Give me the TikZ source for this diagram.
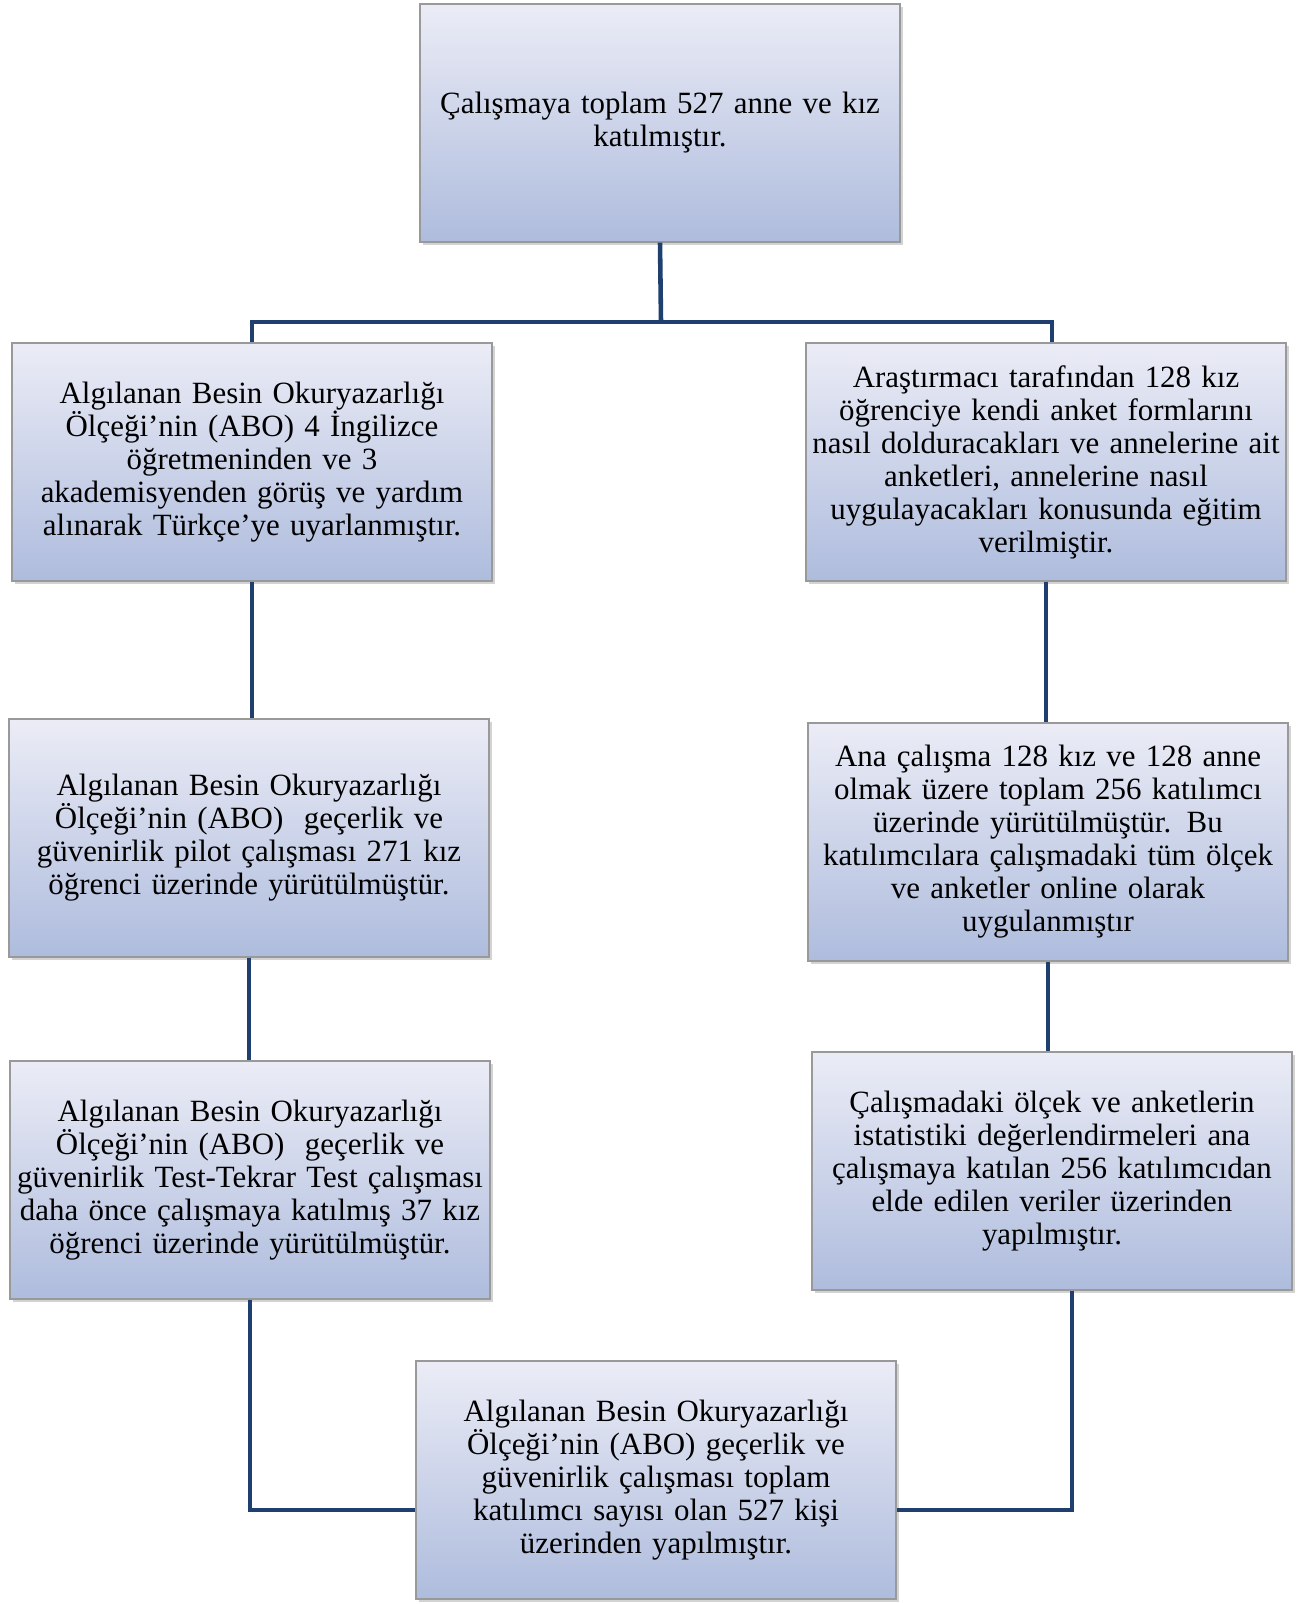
\documentclass[tikz,border=0pt]{standalone}
\usepackage{fontspec}
\setmainfont{Liberation Serif}
\usetikzlibrary{calc,shadows}
\definecolor{linkblue}{HTML}{1F3F6F}
\definecolor{boxtop}{HTML}{EBECF6}
\definecolor{boxbottom}{HTML}{AEBCDD}
\tikzset{
	stepbox/.style={rectangle, draw=black!40, line width=0.8pt, top color=boxtop, bottom color=boxbottom,
		drop shadow={shadow xshift=0.06cm, shadow yshift=-0.06cm, opacity=0.35},
		minimum width=9.6cm, minimum height=4.76cm, text width=9.45cm, inner sep=0pt,
		align=center, font=\fontsize{17.6}{18.8}\selectfont},
	link/.style={line width=2.6pt, color=linkblue}
}

\begin{document}
\begin{tikzpicture}[x=0.02cm, y=-0.02cm]
			%%%%% START %%%%%
			
			\useasboundingbox (0, 0) rectangle (1309, 1604);
			
			\node[stepbox] (top) at (660, 123) {Çalışmaya toplam 527 anne ve kız\\ katılmıştır.};
			
			\node[stepbox] (left1) at (252, 462) {Algılanan Besin Okuryazarlığı\\ Ölçeği’nin (ABO) 4 İngilizce\\ öğretmeninden ve 3\\ akademisyenden görüş ve yardım\\ alınarak Türkçe’ye uyarlanmıştır.};
			\node[stepbox] (right1) at (1046, 462) {Araştırmacı tarafından 128 kız\\ öğrenciye kendi anket formlarını\\ nasıl dolduracakları ve annelerine ait\\ anketleri, annelerine nasıl\\ uygulayacakları konusunda eğitim\\ verilmiştir.};
			
			\node[stepbox] (left2) at (249, 838) {Algılanan Besin Okuryazarlığı\\ Ölçeği’nin (ABO)\ \ geçerlik ve\\ güvenirlik pilot çalışması 271 kız\\ öğrenci üzerinde yürütülmüştür.};
			\node[stepbox] (right2) at (1048, 842) {Ana çalışma 128 kız ve 128 anne\\ olmak üzere toplam 256 katılımcı\\ üzerinde yürütülmüştür. Bu\\ katılımcılara çalışmadaki tüm ölçek\\ ve anketler online olarak\\ uygulanmıştır};
			
			\node[stepbox] (left3) at (250, 1180) {Algılanan Besin Okuryazarlığı\\ Ölçeği’nin (ABO)\ \ geçerlik ve\\ güvenirlik Test-Tekrar Test çalışması\\ daha önce çalışmaya katılmış 37 kız\\ öğrenci üzerinde yürütülmüştür.};
			\node[stepbox] (right3) at (1052, 1171) {Çalışmadaki ölçek ve anketlerin\\ istatistiki değerlendirmeleri ana\\ çalışmaya katılan 256 katılımcıdan\\ elde edilen veriler üzerinden\\ yapılmıştır.};
			
			\node[stepbox] (bottom) at (656, 1480) {Algılanan Besin Okuryazarlığı\\ Ölçeği’nin (ABO) geçerlik ve\\ güvenirlik çalışması toplam\\ katılımcı sayısı olan 527 kişi\\ üzerinden yapılmıştır.};
			
			\coordinate (bus) at (661, 322);
			\draw[link] (top.south) -- (bus);
			\draw[link] (left1.north) |- (bus) -| ([xshift=0.12cm]right1.north);
			
			\draw[link] (left1.south) -- (left1.south |- left2.north);
			\draw[link] (left2.south) -- (left2.south |- left3.north);
			\draw[link] (right1.south) -- (right1.south |- right2.north);
			\draw[link] (right2.south) -- (right2.south |- right3.north);
			
			\draw[link] (left3.south) |- ([yshift=-0.6cm]bottom.west);
			\draw[link] ([xshift=0.4cm]right3.south) |- ([yshift=-0.6cm]bottom.east);
			
			%%%%% END %%%%%
		\end{tikzpicture}
\end{document}
